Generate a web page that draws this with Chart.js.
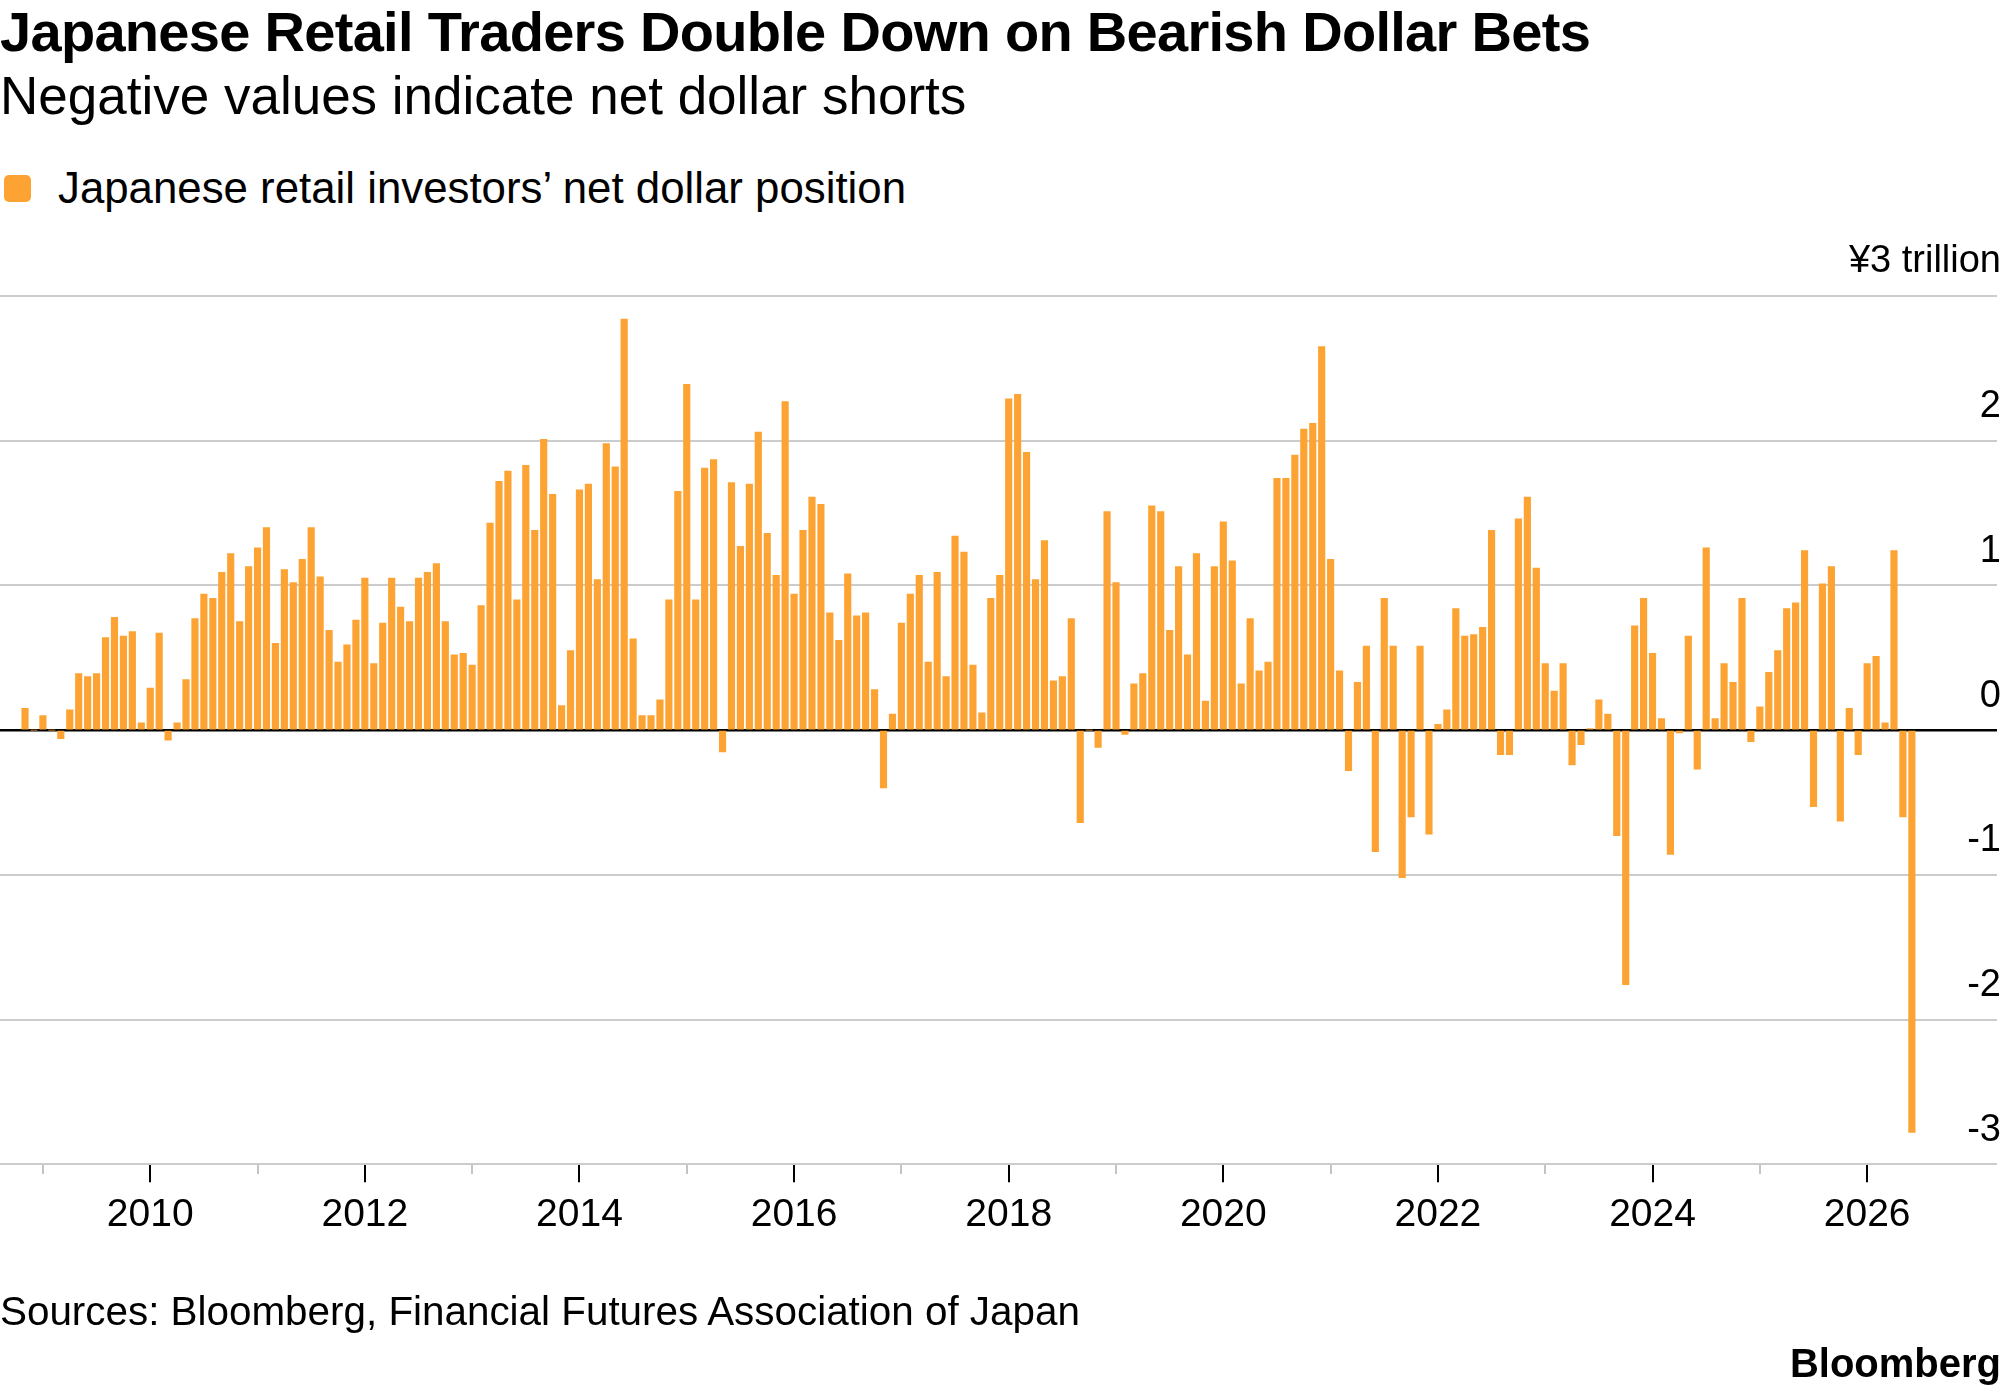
<!DOCTYPE html>
<html lang="en">
<head>
<meta charset="UTF-8">
<title>Japanese Retail Traders Double Down on Bearish Dollar Bets</title>
<script src="https://cdn.jsdelivr.net/npm/chart.js@4/dist/chart.umd.min.js"></script>
<style>
  body { margin: 0; width: 2005px; height: 1392px; background: #fff; position: relative; overflow: hidden;
         font-family: 'Liberation Sans', Arial, Helvetica, sans-serif; color: #000; }
  .txt { position: absolute; white-space: nowrap; line-height: 1; }
  #title { left: 0; top: 4px; font-size: 56px; font-weight: bold; letter-spacing: -0.7px; }
  #subtitle { left: 0; top: 69px; font-size: 53px; }
  #swatch { position: absolute; left: 4px; top: 175px; width: 27px; height: 27px; border-radius: 5px; background: #fca333; }
  #legend { left: 58px; top: 166px; font-size: 43.8px; }
  #source { left: 0; top: 1291px; font-size: 40.4px; }
  #brand { right: 4px; top: 1343px; font-size: 40px; font-weight: bold; }
  #chart { position: absolute; left: 0; top: 0; }
</style>
</head>
<body>
<div id="title" class="txt">Japanese Retail Traders Double Down on Bearish Dollar Bets</div>
<div id="subtitle" class="txt">Negative values indicate net dollar shorts</div>
<div id="swatch"></div>
<div id="legend" class="txt">Japanese retail investors’ net dollar position</div>
<canvas id="chart" width="2005" height="1392"></canvas>
<div id="source" class="txt">Sources: Bloomberg, Financial Futures Association of Japan</div>
<div id="brand" class="txt">Bloomberg</div>

<script>
// --- DATA (¥ trillion, monthly, first bar = Nov 2008) ---
const firstYear = 2008;
const firstMonth = 11;
const netPosition = [
  0.15, 0,                                                              // 2008
  0.10, 0, -0.06, 0.14, 0.39, 0.37, 0.39, 0.64, 0.78, 0.65, 0.68, 0.05, // 2009
  0.29, 0.67, -0.07, 0.05, 0.35, 0.77, 0.94, 0.91, 1.09, 1.22, 0.75, 1.13, // 2010
  1.26, 1.40, 0.60, 1.11, 1.02, 1.18, 1.40, 1.06, 0.69, 0.47, 0.59, 0.76, // 2011
  1.05, 0.46, 0.74, 1.05, 0.85, 0.75, 1.05, 1.09, 1.15, 0.75, 0.52, 0.53, // 2012
  0.45, 0.86, 1.43, 1.72, 1.79, 0.90, 1.83, 1.38, 2.01, 1.63, 0.17, 0.55, // 2013
  1.66, 1.70, 1.04, 1.98, 1.82, 2.84, 0.63, 0.10, 0.10, 0.21, 0.90, 1.65, // 2014
  2.39, 0.90, 1.81, 1.87, -0.15, 1.71, 1.27, 1.70, 2.06, 1.36, 1.07, 2.27, // 2015
  0.94, 1.38, 1.61, 1.56, 0.81, 0.62, 1.08, 0.79, 0.81, 0.28, -0.40, 0.11, // 2016
  0.74, 0.94, 1.07, 0.47, 1.09, 0.37, 1.34, 1.23, 0.45, 0.12, 0.91, 1.07, // 2017
  2.29, 2.32, 1.92, 1.04, 1.31, 0.34, 0.37, 0.77, -0.64, 0, -0.12, 1.51, // 2018
  1.02, -0.03, 0.32, 0.39, 1.55, 1.51, 0.69, 1.13, 0.52, 1.22, 0.20, 1.13, // 2019
  1.44, 1.17, 0.32, 0.77, 0.41, 0.47, 1.74, 1.74, 1.90, 2.08, 2.12, 2.65, // 2020
  1.18, 0.41, -0.28, 0.33, 0.58, -0.84, 0.91, 0.58, -1.02, -0.60, 0.58, -0.72, // 2021
  0.04, 0.14, 0.84, 0.65, 0.66, 0.71, 1.38, -0.17, -0.17, 1.46, 1.61, 1.12, // 2022
  0.46, 0.27, 0.46, -0.24, -0.10, 0.01, 0.21, 0.11, -0.73, -1.76, 0.72, 0.91, // 2023
  0.53, 0.08, -0.86, -0.02, 0.65, -0.27, 1.26, 0.08, 0.46, 0.33, 0.91, -0.08, // 2024
  0.16, 0.40, 0.55, 0.84, 0.88, 1.24, -0.53, 1.01, 1.13, -0.63, 0.15, -0.17, // 2025
  0.46, 0.51, 0.05, 1.24, -0.60, -2.78                                   // 2026
];

const labelledYears = [2010, 2012, 2014, 2016, 2018, 2020, 2022, 2024, 2026];
const minorYears = [2009, 2011, 2013, 2015, 2017, 2019, 2021, 2023, 2025];
const topLabel = '¥3 trillion';

const barColor = '#fca333';

const points = netPosition.map((v, i) => ({ x: firstYear + (firstMonth - 1 + i) / 12, y: v }));

Chart.defaults.font.family = "'Liberation Sans', Arial, Helvetica, sans-serif";
Chart.defaults.color = '#000';

new Chart(document.getElementById('chart'), {
  type: 'bar',
  data: {
    datasets: [{
      data: points,
      backgroundColor: barColor,
      borderWidth: 0,
      barThickness: 6.5,
      xAxisID: 'x',
      yAxisID: 'y'
    }]
  },
  options: {
    responsive: false,
    animation: false,
    devicePixelRatio: 1,
    layout: { padding: { top: 296, bottom: 143, left: 0, right: 0 } },
    plugins: { legend: { display: false }, tooltip: { enabled: false } },
    scales: {
      x: {
        type: 'linear',
        min: 2008.6,
        max: 2027.21,
        offset: false,
        border: { display: false },
        afterBuildTicks: axis => {
          axis.ticks = [...minorYears, ...labelledYears].sort((a, b) => a - b).map(v => ({ value: v }));
        },
        grid: {
          offset: false,
          drawOnChartArea: false,
          drawTicks: true,
          tickLength: 18,
          lineWidth: 2,
          tickColor: ctx => labelledYears.includes(ctx.tick && ctx.tick.value) ? '#000' : '#c4c4c4',
          tickBorderDash: ctx => labelledYears.includes(ctx.tick && ctx.tick.value) ? [] : [10, 100]
        },
        ticks: {
          autoSkip: false,
          maxRotation: 0,
          padding: 10,
          font: { size: 39 },
          callback: v => labelledYears.includes(v) ? String(v) : ''
        }
      },
      y: {
        position: 'right',
        min: -3,
        max: 3,
        border: { display: false },
        grid: {
          drawTicks: false,
          lineWidth: 2,
          color: ctx => ctx.tick && ctx.tick.value === 0 ? '#000' : '#cccccc'
        },
        ticks: {
          stepSize: 1,
          mirror: true,
          padding: 4,
          labelOffset: -34,
          font: { size: 38 },
          callback: v => v === 3 ? topLabel : String(v)
        }
      },
      // zero line drawn over the bars
      y2: {
        position: 'right',
        min: -3,
        max: 3,
        z: 1,
        border: { display: false },
        grid: {
          drawTicks: false,
          lineWidth: 2.5,
          color: ctx => ctx.tick && ctx.tick.value === 0 ? '#000' : 'rgba(0,0,0,0)'
        },
        ticks: { display: false, stepSize: 1 }
      }
    }
  }
});
</script>
</body>
</html>
